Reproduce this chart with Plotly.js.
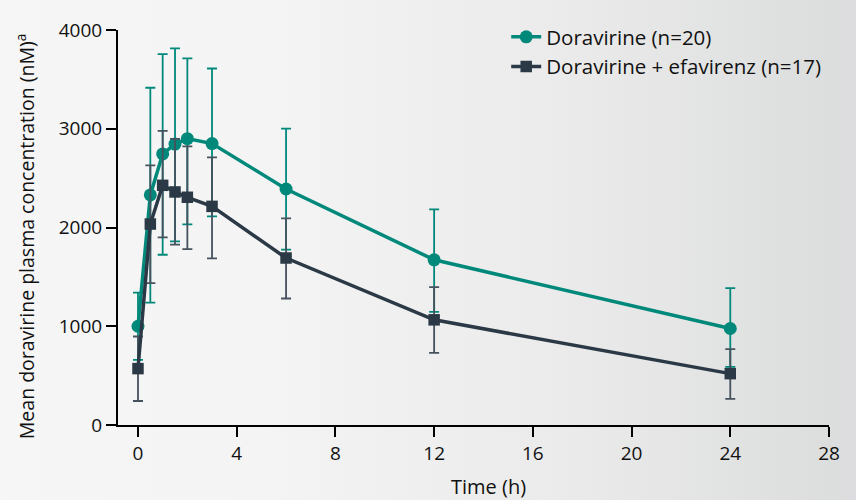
<!DOCTYPE html>
<html>
<head>
<meta charset="utf-8">
<script src="https://cdn.plot.ly/plotly-3.0.1.min.js"></script>
<style>
  html, body { margin: 0; padding: 0; }
  #chart {
    width: 856px; height: 500px;
    background: linear-gradient(to right, #f6f6f6 0%, #f4f4f4 30%, #ebebeb 65%, #dcdedd 97%, #dddce0 100%);
  }
</style>
</head>
<body>
<div id="chart"></div>
<script>
// Time points (h)
const times = [0, 0.5, 1, 1.5, 2, 3, 6, 12, 24];

// Doravirine (n=20)
const doraMean  = [1000, 2330, 2745, 2845, 2900, 2850, 2390, 1673, 977];
const doraUpper = [1340, 3415, 3756, 3813, 3712, 3610, 3002, 2184, 1386];
const doraLower = [660, 1240, 1724, 1859, 2031, 2113, 1775, 1146, 588];

// Doravirine + efavirenz (n=17)
const efvMean  = [571, 2035, 2427, 2360, 2306, 2214, 1691, 1065, 520];
const efvUpper = [896, 2630, 2979, 2897, 2822, 2711, 2092, 1397, 768];
const efvLower = [243, 1437, 1900, 1826, 1782, 1687, 1281, 730, 264];

const xTicks = [0, 4, 8, 12, 16, 20, 24, 28];
const yTicks = [0, 1000, 2000, 3000, 4000];

const plusArr = (u, m) => u.map((v, i) => v - m[i]);
const minusArr = (l, m) => m.map((v, i) => v - l[i]);

const teal = '#00897b';
const dark = '#2b3946';
const font = '"Open Sans", sans-serif';

const traces = [
  {
    x: times, y: doraMean, name: 'Doravirine (n=20)', type: 'scatter', mode: 'lines+markers',
    line: {color: teal, width: 3.5},
    marker: {color: teal, size: 13, symbol: 'circle'},
    error_y: {type: 'data', symmetric: false, array: plusArr(doraUpper, doraMean), arrayminus: minusArr(doraLower, doraMean),
              color: teal, thickness: 1.8, width: 5}
  },
  {
    x: times, y: efvMean, name: 'Doravirine + efavirenz (n=17)', type: 'scatter', mode: 'lines+markers',
    line: {color: dark, width: 3.5},
    marker: {color: dark, size: 11.5, symbol: 'square'},
    error_y: {type: 'data', symmetric: false, array: plusArr(efvUpper, efvMean), arrayminus: minusArr(efvLower, efvMean),
              color: '#46525e', thickness: 1.8, width: 5}
  }
];

const layout = {
  width: 856, height: 500,
  margin: {l: 118, r: 27, t: 30, b: 75},
  paper_bgcolor: 'rgba(0,0,0,0)',
  plot_bgcolor: 'rgba(0,0,0,0)',
  font: {family: font, size: 19, color: '#111'},
  showlegend: true,
  legend: {x: 0.546, y: 1.033, xanchor: 'left', yanchor: 'top', bgcolor: 'rgba(0,0,0,0)',
           font: {family: font, size: 20.5, color: '#111'}, tracegroupgap: 0, itemwidth: 30},
  xaxis: {
    range: [-0.81, 28], tickvals: xTicks, ticktext: xTicks.map(String),
    showline: true, linecolor: '#000', linewidth: 2,
    ticks: 'outside', ticklen: 10, tickwidth: 2, tickcolor: '#000',
    showgrid: false, zeroline: false, fixedrange: true,
    tickfont: {family: font, size: 19, color: '#111'}
  },
  yaxis: {
    range: [0, 4000], tickvals: yTicks, ticktext: yTicks.map(String),
    showline: true, linecolor: '#000', linewidth: 2,
    ticks: 'outside', ticklen: 10, tickwidth: 2, tickcolor: '#000',
    showgrid: false, zeroline: false, fixedrange: true,
    tickfont: {family: font, size: 19, color: '#111'}
  },
  annotations: [
    {text: 'Time (h)', xref: 'paper', yref: 'paper', x: 0.521, y: 0, yshift: -61,
     xanchor: 'center', yanchor: 'middle', showarrow: false,
     font: {family: font, size: 20, color: '#111'}},
    {text: 'Mean doravirine plasma concentration (nM)<sup>a</sup>', xref: 'paper', yref: 'paper',
     x: 0, xshift: -93, y: 0.478, xanchor: 'center', yanchor: 'middle', textangle: -90, showarrow: false,
     font: {family: font, size: 19.5, color: '#111'}}
  ]
};

Plotly.newPlot('chart', traces, layout, {displayModeBar: false, staticPlot: true});
</script>
</body>
</html>
